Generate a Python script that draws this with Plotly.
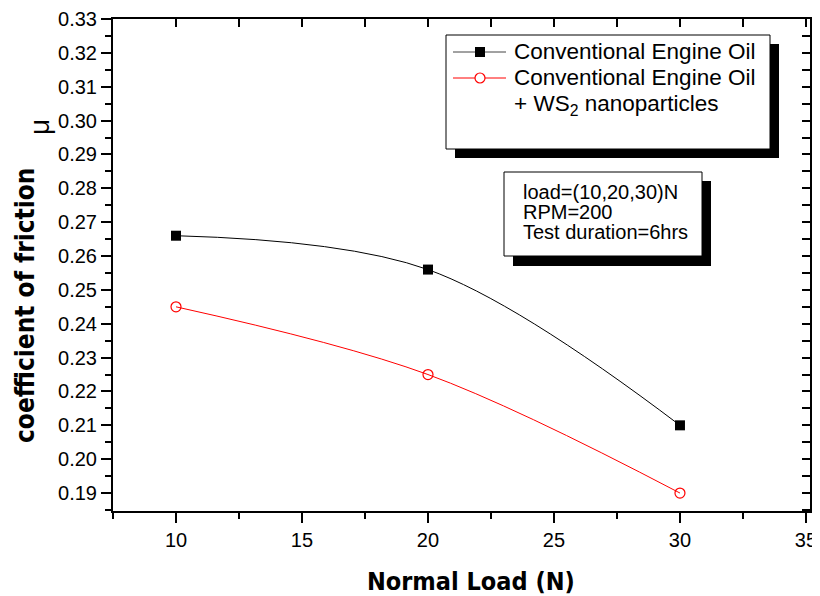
import plotly.graph_objects as go

# Data
loads = [10, 20, 30]
cof_oil = [0.266, 0.256, 0.21]
cof_ws2 = [0.245, 0.225, 0.19]
series_names = ["Conventional Engine Oil", "Conventional Engine Oil<br>+ WS<sub>2</sub> nanoparticles"]
info_lines = ["load=(10,20,30)N", "RPM=200", "Test duration=6hrs"]

OFF = 8  # page body margin
W, H = 820 - OFF, 596 - OFF
ML, MR, MT, MB = 113 - OFF, 10, 19 - OFF, 85
PW, PH = W - ML - MR, H - MT - MB

def X(px):
    return (px - OFF - ML) / PW

def Y(py):
    return (H - MB - (py - OFF)) / PH

XR = [7.5, 35.16]
YR = [0.1847, 0.33]

fig = go.Figure()
fig.add_trace(go.Scatter(x=loads, y=cof_oil, mode="lines+markers", line=dict(color="black", width=1, shape="spline"),
                         marker=dict(symbol="square", size=10, color="black"), name=series_names[0], showlegend=False))
fig.add_trace(go.Scatter(x=loads, y=cof_ws2, mode="lines+markers", line=dict(color="red", width=1, shape="spline"),
                         marker=dict(symbol="circle-open", size=10, color="red", line=dict(width=1.2)),
                         name=series_names[1], showlegend=False))
# dummy trace for mirrored (inside-tick) axes
fig.add_trace(go.Scatter(x=[None], y=[None], xaxis="x2", yaxis="y2", showlegend=False, hoverinfo="skip"))

tickfont = dict(family="Arial, Liberation Sans", size=20, color="black")
fig.update_layout(
    width=W, height=H, margin=dict(l=ML, r=MR, t=MT, b=MB, autoexpand=False),
    plot_bgcolor="white", paper_bgcolor="white", showlegend=False,
    xaxis=dict(range=XR, dtick=5, tick0=0, ticks="outside", ticklen=10, tickwidth=1.5, tickcolor="black",
               showline=True, linewidth=2, linecolor="black", showgrid=False, zeroline=False, tickfont=tickfont,
               minor=dict(dtick=2.5, tick0=0, ticks="outside", ticklen=6, tickwidth=1.5, tickcolor="black", showgrid=False)),
    yaxis=dict(range=YR, dtick=0.01, tick0=0, ticks="outside", ticklen=10, tickwidth=1.5, tickcolor="black",
               tickformat=".2f", showline=True, linewidth=2, linecolor="black", showgrid=False, zeroline=False,
               tickfont=tickfont, ticklabelstandoff=0,
               minor=dict(dtick=0.005, tick0=0, ticks="outside", ticklen=6, tickwidth=1.5, tickcolor="black", showgrid=False)),
    xaxis2=dict(range=XR, overlaying="x", side="top", dtick=2.5, tick0=0, ticks="inside", ticklen=8, tickwidth=1.5,
                tickcolor="black", showticklabels=False, showline=True, linewidth=1.5, linecolor="black",
                showgrid=False, zeroline=False),
    yaxis2=dict(range=YR, overlaying="y", side="right", dtick=0.005, tick0=0, ticks="inside", ticklen=8, tickwidth=1.5,
                tickcolor="black", showticklabels=False, showline=True, linewidth=1.5, linecolor="black",
                showgrid=False, zeroline=False),
)

shapes = []
# Legend box with shadow
shapes.append(dict(type="rect", xref="paper", yref="paper", x0=X(455), x1=X(779), y0=Y(44), y1=Y(158),
                   fillcolor="black", line=dict(width=0), layer="above"))
shapes.append(dict(type="rect", xref="paper", yref="paper", x0=X(446), x1=X(770), y0=Y(35), y1=Y(149),
                   fillcolor="white", line=dict(color="black", width=1), layer="above"))
# legend symbols
shapes.append(dict(type="line", xref="paper", yref="paper", x0=X(453), x1=X(506), y0=Y(52), y1=Y(52),
                   line=dict(color="#444", width=1), layer="above"))
shapes.append(dict(type="rect", xref="paper", yref="paper", x0=X(475), x1=X(485), y0=Y(47), y1=Y(57),
                   fillcolor="black", line=dict(width=0), layer="above"))
shapes.append(dict(type="line", xref="paper", yref="paper", x0=X(453), x1=X(506), y0=Y(78), y1=Y(78),
                   line=dict(color="red", width=1), layer="above"))
shapes.append(dict(type="circle", xref="paper", yref="paper", x0=X(475), x1=X(485), y0=Y(73), y1=Y(83),
                   fillcolor="white", line=dict(color="red", width=1.2), layer="above"))
# Info box with shadow
shapes.append(dict(type="rect", xref="paper", yref="paper", x0=X(513), x1=X(711), y0=Y(181), y1=Y(266),
                   fillcolor="black", line=dict(width=0), layer="above"))
shapes.append(dict(type="rect", xref="paper", yref="paper", x0=X(504), x1=X(702), y0=Y(172), y1=Y(256),
                   fillcolor="white", line=dict(color="black", width=1), layer="above"))
fig.update_layout(shapes=shapes)

legfont = dict(family="Arial, Liberation Sans", size=22.5, color="black")
anns = [
    dict(x=X(512), y=Y(52), text=series_names[0]),
    dict(x=X(512), y=Y(78), text="Conventional Engine Oil"),
    dict(x=X(512), y=Y(105), text="+ WS<sub>2</sub> nanoparticles"),
]
for a in anns:
    a.update(xref="paper", yref="paper", xanchor="left", yanchor="middle", showarrow=False, font=legfont)
infofont = dict(family="Arial, Liberation Sans", size=20, color="black")
for i, t in enumerate(info_lines):
    anns.append(dict(x=X(521), y=Y(192 + 20 * i), text=t, xref="paper", yref="paper", xanchor="left",
                     yanchor="middle", showarrow=False, font=infofont))
titlefam = "DejaVu Sans Condensed, Liberation Sans Narrow, Arial Narrow, Arial"
anns.append(dict(x=X(471), y=Y(581), text="<b>Normal Load (N)</b>", xref="paper", yref="paper",
                 xanchor="center", yanchor="middle", showarrow=False,
                 font=dict(family=titlefam, size=25, color="black")))
anns.append(dict(x=X(25), y=Y(305), text="<b>coefficient of friction</b>", xref="paper", yref="paper",
                 xanchor="center", yanchor="middle", showarrow=False, textangle=-90,
                 font=dict(family=titlefam, size=26, color="black")))
anns.append(dict(x=X(40), y=Y(127), text="μ", xref="paper", yref="paper",
                 xanchor="center", yanchor="middle", showarrow=False, textangle=-90,
                 font=dict(family="Arial, Liberation Sans", size=28, color="black")))
fig.update_layout(annotations=anns)

fig.write_html("out.html")
